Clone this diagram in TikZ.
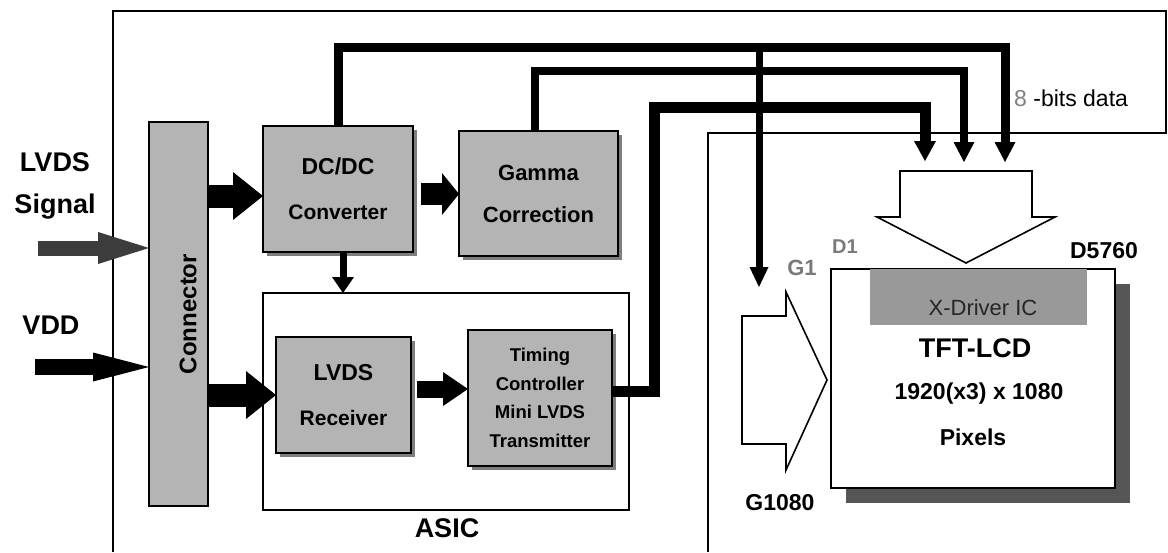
\documentclass[tikz,border=0pt]{standalone}
\usepackage{fontspec}
\setmainfont{Liberation Sans}
\usepackage{graphicx}
\usetikzlibrary{arrows.meta,calc,shadows}
\definecolor{boxgray}{HTML}{B4B4B4}
\definecolor{shadowgray}{HTML}{7E7E7E}
\definecolor{darkshadow}{HTML}{555555}
\definecolor{drvgray}{HTML}{999999}
\definecolor{labgray}{HTML}{7A7A7A}
\definecolor{sigarrow}{HTML}{3C3C3C}
\begin{document}
\begin{tikzpicture}[x=1pt,y=-1pt,
  box/.style={draw=black, line width=1.8pt, fill=boxgray, inner sep=0pt, outer sep=0pt, align=center},
  shadowed/.style={drop shadow={shadow xshift=4pt, shadow yshift=-4pt, fill=shadowgray, opacity=1}},
  wire/.style={line width=#1, line join=miter, line cap=butt},
  frameline/.style={line width=1.5pt, line join=miter},
  hollow/.style={draw=black, line width=1.6pt, fill=white, line join=miter},
  lab/.style={inner sep=0pt, font=\bfseries\fontsize{#1}{#1}\selectfont},
  lab/.default=23
]
\useasboundingbox (0,0) rectangle (1168,552);

% outer frame
\draw[frameline] (113,552) -- (113,11) -- (1166,11) -- (1166,133) -- (708,133) -- (708,552);

% left labels
\node[inner sep=0pt, align=center, font=\bfseries\fontsize{27}{42}\selectfont] (lvdslab) at (55,186) {LVDS\\Signal};
\node[lab=27] (vddlab) at (51,325) {VDD};

% connector
\node[box, minimum width=59, minimum height=384] (conn) at (178.5,314) {};
\node[rotate=90, lab=24] (conntxt) at (188,314) {Connector};

% DC/DC and gamma
\node[box, shadowed, minimum width=150, minimum height=126, font=\bfseries\fontsize{21}{45}\selectfont] (dcdc) at (338,189) {{\fontsize{23}{45}\selectfont DC/DC}\\Converter};
\node[box, shadowed, minimum width=159, minimum height=125, font=\bfseries\fontsize{22}{42}\selectfont] (gamma) at (538.5,193.5) {Gamma\\Correction};

% ASIC
\node[draw=black, line width=1.8pt, fill=white, inner sep=0pt, outer sep=0pt, minimum width=366, minimum height=217] (asic) at (446,401.5) {};
\node[lab=27] (asiclab) at (447,528) {ASIC};
\node[box, shadowed, minimum width=135, minimum height=116, font=\bfseries\fontsize{21}{45}\selectfont] (rx) at (343.5,395) {{\fontsize{23}{45}\selectfont LVDS}\\Receiver};
\node[box, shadowed, minimum width=144, minimum height=136, font=\bfseries\fontsize{18.5}{28.5}\selectfont] (tcon) at (540,398) {Timing\\Controller\\Mini LVDS\\Transmitter};

% TFT-LCD panel
\node[draw=black, line width=1.8pt, fill=white, inner sep=0pt, outer sep=0pt, minimum width=284, minimum height=219,
  drop shadow={shadow xshift=15pt, shadow yshift=-15pt, fill=darkshadow, opacity=1}] (tft) at (973,378.5) {};
\node[fill=drvgray, inner sep=0pt, outer sep=0pt, minimum width=217, minimum height=56] (xdrv) at (978.5,297) {};
\node[inner sep=0pt, font=\fontsize{22}{22}\selectfont, text=black!85] (xdrvtxt) at (983,308) {X-Driver IC};
\node[lab=27] (tfttitle) at (975,348) {TFT-LCD};
\node[lab=23] (res) at (979,394) {1920(x3) x 1080};
\node[lab=23] (pix) at (973,437) {Pixels};
\node[lab=23] (dlast) at (1104,251) {D5760};
\node[lab=23] (glast) at (780,503) {G1080};
\node[lab=22, text=labgray] (gfirst) at (802,268) {G1};
\node[lab=20, text=labgray] (dfirst) at (845,247) {D1};
\node[inner sep=0pt, anchor=west, font=\fontsize{23}{23}\selectfont] (bits) at (1014,98) {\textcolor{gray}{8} -bits data};

% hollow arrows
\draw[hollow] (900,171) -- (1032,171) -- (1032,217) -- (1055,217) -- (966,263) -- (877,217) -- (900,217) -- cycle;
\draw[hollow] (742,316) -- (786,316) -- (786,292) -- (827,380) -- (786,470) -- (786,444) -- (742,444) -- cycle;

% data wires
\coordinate (tipA) at (925,161);
\coordinate (tipB) at (964,162);
\coordinate (tipC) at (1005,162);
\coordinate (gj) at (759,47);
\coordinate (gtip) at (759,287);
\draw[wire=9pt, -{Triangle[length=20pt,width=21pt,line width=0pt]}] (dcdc.north) |- (gj) -| (tipC);
\draw[wire=8pt, -{Triangle[length=20pt,width=21pt,line width=0pt]}] ($(gamma.north)+(-4,0)$) |- (tipB |- 0,71) -- (tipB);
\draw[wire=11pt, -{Triangle[length=20pt,width=22pt,line width=0pt]}] ($(tcon.east)+(0,-7)$) -| (654,107) -| (tipA);
\draw[wire=7pt, -{Triangle[length=20pt,width=19pt,line width=0pt]}] (gj) -- (gtip);

% block arrows
\draw[line width=23pt, -{Triangle[length=30pt,width=48pt,line width=0pt]}] (conn.east |- 0,196) -- (dcdc.west |- 0,196);
\draw[line width=23pt, -{Triangle[length=30pt,width=48pt,line width=0pt]}] (conn.east |- 0,395) -- (rx.west |- 0,395);
\draw[line width=22pt, -{Triangle[length=17pt,width=42pt,line width=0pt]}] ($(dcdc.east)+(8,5)$) -- (gamma.west |- 0,194);
\draw[line width=17pt, -{Triangle[length=25pt,width=34pt,line width=0pt]}] ($(rx.east)+(6,-6)$) -- (tcon.west |- 0,389);
\draw[line width=7pt, -{Triangle[length=16pt,width=22pt,line width=0pt]}] (dcdc.south -| 343,0) -- (asic.north -| 343,0);

% input arrows
\coordinate (lvdsin) at (38,248);
\coordinate (vddin) at (35,367);
\draw[sigarrow, line width=15pt, -{Triangle[length=51pt,width=32pt,line width=0pt]}] (lvdsin) -- (conn.west |- lvdsin);
\draw[black, line width=16pt, -{Triangle[length=56pt,width=29pt,line width=0pt]}] (vddin) -- (conn.west |- vddin);
\end{tikzpicture}
\end{document}
